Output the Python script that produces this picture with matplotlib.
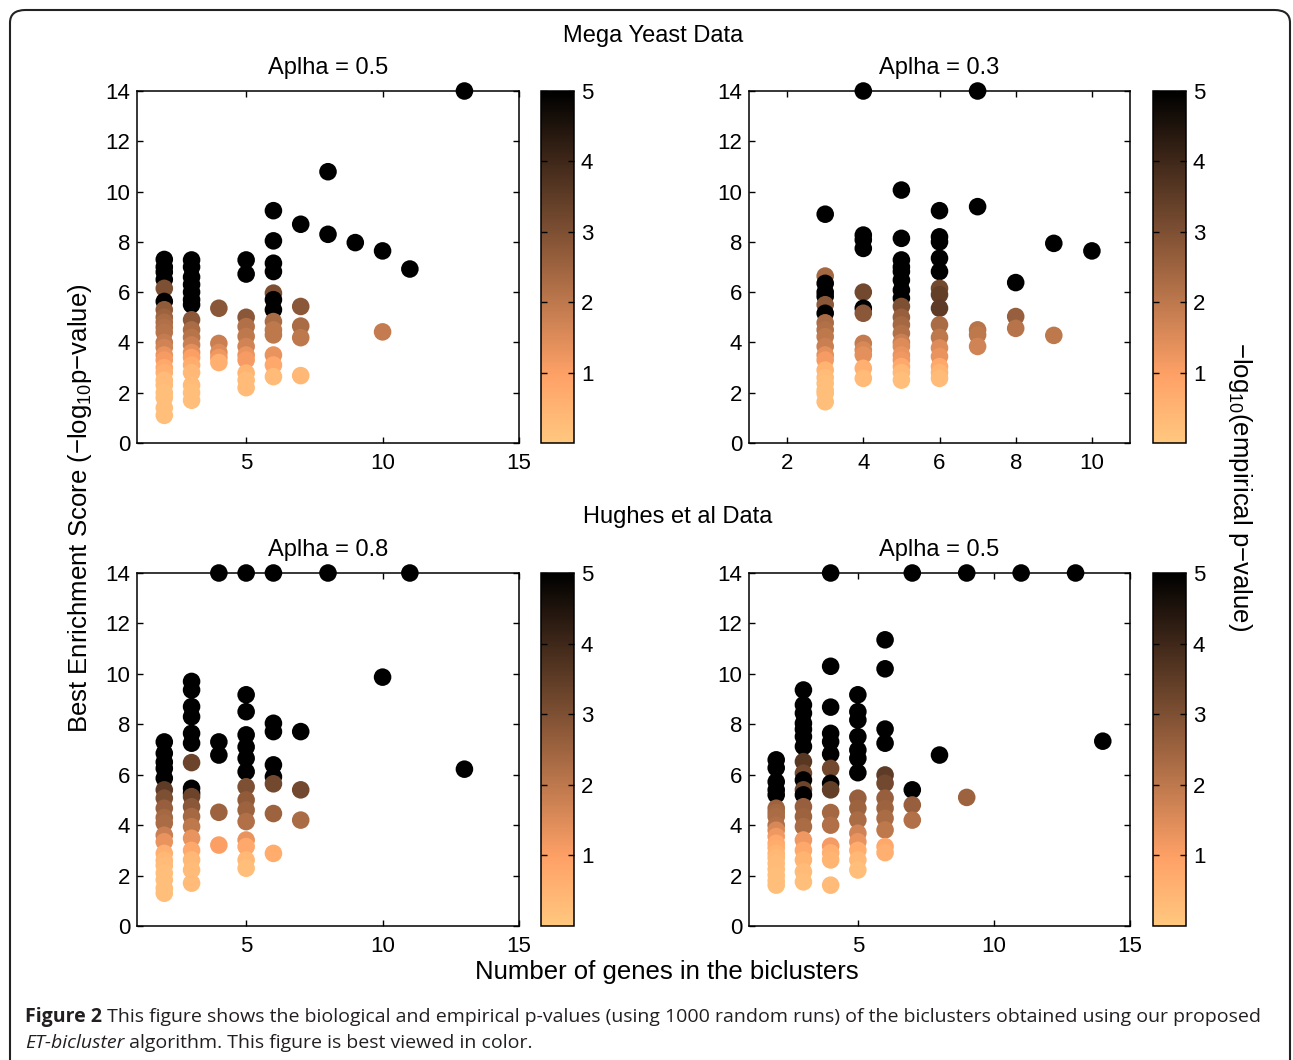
import matplotlib
matplotlib.use("Agg")
from matplotlib import pyplot as plt
from matplotlib.patches import FancyBboxPatch

plt.rcParams['font.family'] = ['Liberation Sans', 'DejaVu Sans']
plt.rcParams['mathtext.fontset'] = 'custom'
plt.rcParams['mathtext.rm'] = 'Liberation Sans'
plt.rcParams['mathtext.it'] = 'Liberation Sans:italic'

# Mega Yeast Data, alpha = 0.5
yeast05_x = [2]*23 + [3]*18 + [4]*5 + [5]*11 + [6]*13 + [7]*5 + [8, 8, 9, 10, 10, 11, 13]
yeast05_y = [7.3, 7.0, 6.8, 6.5, 6.15, 5.63, 5.3, 5.0, 4.8, 4.6, 4.4, 4.0, 3.8, 3.5, 3.3, 3.0,
             2.8, 2.5, 2.3, 2.0, 1.8, 1.4, 1.1,
             7.28, 7.0, 6.6, 6.3, 6.0, 5.7, 5.5, 4.9, 4.5, 4.2, 3.9, 3.6, 3.4, 3.1, 2.8, 2.3,
             2.0, 1.7,
             5.36, 3.96, 3.6, 3.4, 3.2,
             7.28, 6.72, 5.0, 4.63, 4.24, 3.84, 3.5, 3.3, 2.78, 2.5, 2.2,
             9.24, 8.04, 7.15, 6.82, 5.96, 5.7, 5.3, 4.83, 4.5, 4.3, 3.5, 3.1, 2.64,
             8.7, 5.43, 4.65, 4.19, 2.68,
             10.79, 8.3, 7.97, 7.64, 4.42, 6.92, 14.0]
yeast05_c = [5, 5, 5, 5, 3.0, 5, 2.7, 2.5, 2.3, 2.2, 2.1, 1.9, 1.7, 1.3, 1.1, 0.8,
             0.6, 0.3, 0.3, 0.2, 0.2, 0.2, 0.2,
             5, 5, 5, 5, 5, 5, 5, 2.8, 2.3, 2.1, 1.8, 1.4, 1.0, 0.7, 0.4, 0.3,
             0.2, 0.2,
             2.8, 1.8, 1.5, 1.2, 0.6,
             5, 5, 2.8, 2.2, 2.0, 1.7, 1.3, 1.1, 0.5, 0.3, 0.3,
             5, 5, 5, 5, 3.0, 5, 5, 2.3, 2.0, 2.0, 1.3, 0.8, 0.3,
             5, 2.8, 2.3, 2.0, 0.4,
             5, 5, 5, 5, 1.9, 5, 5]

# Mega Yeast Data, alpha = 0.3
yeast03_x = [3]*19 + [4]*12 + [5]*19 + [6]*15 + [7]*5 + [8]*3 + [9]*2 + [10]
yeast03_y = [9.1, 6.64, 6.35, 6.0, 5.83, 5.5, 5.16, 4.78, 4.5, 4.23, 3.84, 3.5, 3.3, 2.9,
             2.6, 2.37, 2.1, 1.97, 1.64,
             14.0, 8.27, 8.08, 7.74, 6.0, 5.36, 5.16, 3.96, 3.7, 3.5, 2.97, 2.57,
             10.06, 8.14, 7.28, 7.0, 6.82, 6.48, 6.08, 5.76, 5.43, 5.0, 4.7, 4.36, 4.0,
             3.84, 3.5, 3.3, 3.04, 2.8, 2.5,
             9.24, 8.2, 8.0, 7.35, 6.82, 6.15, 5.9, 5.36, 4.7, 4.2, 3.78, 3.44, 3.04,
             2.8, 2.57,
             14.0, 9.4, 4.5, 4.3, 3.84,
             6.38, 5.03, 4.56,
             7.94, 4.28,
             7.64]
yeast03_c = [5, 2.4, 5, 5, 5, 2.8, 5, 2.3, 2.2, 2.0, 1.8, 1.4, 1.1, 0.5,
             0.3, 0.2, 0.2, 0.2, 0.2,
             5, 5, 5, 5, 3.2, 5, 2.8, 1.9, 1.6, 1.4, 0.6, 0.3,
             5, 5, 5, 5, 5, 5, 5, 5, 3.0, 2.6, 2.4, 2.2, 1.8,
             1.5, 1.3, 1.2, 0.8, 0.4, 0.2,
             5, 5, 5, 5, 5, 3.2, 3.4, 3.5, 2.3, 2.0, 1.5, 1.3, 0.8,
             0.5, 0.3,
             5, 5, 2.1, 2.0, 1.7,
             5, 2.6, 2.1,
             5, 2.0,
             5]

# Hughes et al Data, alpha = 0.8
hughes08_x = [4, 5, 6, 8, 11] + [2]*19 + [3]*18 + [4]*4 + [5]*14 + [6]*7 + [7]*3 + [10, 13]
hughes08_y = [14.0, 14.0, 14.0, 14.0, 14.0,
              7.3, 6.85, 6.5, 6.25, 5.86, 5.4, 5.07, 4.67, 4.3, 4.08, 3.6, 3.34, 2.88,
              2.6, 2.4, 2.1, 1.83, 1.5, 1.3,
              9.7, 9.36, 8.7, 8.3, 7.64, 7.25, 6.48, 5.46, 5.27, 5.13, 4.73, 4.34, 3.94,
              3.48, 3.0, 2.62, 2.22, 1.7,
              7.3, 6.78, 4.51, 3.21,
              9.17, 8.5, 7.58, 7.1, 6.65, 6.12, 5.52, 5.0, 4.6, 4.14, 3.41, 3.15, 2.62, 2.29,
              8.04, 7.71, 6.39, 5.92, 5.64, 4.46, 2.88,
              7.71, 5.4, 4.2,
              9.87, 6.22]
hughes08_c = [5, 5, 5, 5, 5,
              5, 5, 5, 5, 5, 3.5, 3.0, 2.6, 2.4, 2.3, 1.8, 1.3, 0.6,
              0.4, 0.3, 0.2, 0.2, 0.2, 0.2,
              5, 5, 5, 5, 5, 5, 3.3, 5, 5, 3.3, 2.8, 2.4, 2.0,
              1.3, 0.8, 0.4, 0.3, 0.3,
              5, 5, 2.5, 1.0,
              5, 5, 5, 5, 5, 5, 3.0, 2.7, 2.5, 2.2, 1.3, 0.8, 0.4, 0.2,
              5, 5, 5, 5, 3.2, 2.5, 0.7,
              5, 3.2, 2.3,
              5, 5]

# Hughes et al Data, alpha = 0.5
hughes05_x = [4, 7, 9, 11, 13] + [2]*20 + [3]*20 + [4]*14 + [5]*15 + [6]*12 + [7]*3 + [8, 9, 14]
hughes05_y = [14.0, 14.0, 14.0, 14.0, 14.0,
              6.59, 6.27, 5.72, 5.4, 5.2, 4.67, 4.5, 4.34, 4.0, 3.8, 3.55, 3.28, 3.1, 2.88,
              2.7, 2.48, 2.25, 2.02, 1.8, 1.62,
              9.36, 8.77, 8.44, 8.04, 7.8, 7.51, 7.12, 6.52, 6.06, 5.79, 5.4, 5.2, 4.73, 4.34,
              3.94, 3.41, 3.0, 2.62, 2.15, 1.75,
              10.3, 8.68, 7.64, 7.31, 6.82, 6.25, 5.66, 5.4, 4.5, 4.0, 3.17, 2.9, 2.62, 1.62,
              9.17, 8.5, 8.17, 7.51, 6.98, 6.65, 6.08, 5.07, 4.67, 4.2, 3.68, 3.34, 3.0, 2.62,
              2.22,
              11.35, 10.2, 7.81, 7.25, 5.99, 5.66, 5.07, 4.67, 4.27, 3.81, 3.15, 2.91,
              5.4, 4.8, 4.2,
              6.78, 5.1, 7.33]
hughes05_c = [5, 5, 5, 5, 5,
              5, 5, 5, 5, 5, 2.5, 2.4, 2.3, 2.2, 1.6, 1.2, 0.8, 0.7, 0.5,
              0.4, 0.3, 0.3, 0.2, 0.2, 0.2,
              5, 5, 5, 5, 5, 5, 5, 3.6, 3.2, 5, 3.3, 5, 2.6, 2.5,
              2.3, 1.2, 0.8, 0.5, 0.3, 0.2,
              5, 5, 5, 5, 5, 3.2, 5, 3.4, 2.4, 2.2, 1.1, 0.6, 0.5, 0.3,
              5, 5, 5, 5, 5, 5, 5, 2.6, 2.5, 2.3, 1.7, 1.3, 0.7, 0.4,
              0.2,
              5, 5, 5, 5, 3.5, 3.2, 2.6, 2.5, 2.3, 2.0, 0.8, 0.6,
              5, 2.6, 2.2,
              5, 2.5, 5]

panels = [
    (yeast05_x, yeast05_y, yeast05_c, "Aplha = 0.5", (1, 15), [5, 10, 15]),
    (yeast03_x, yeast03_y, yeast03_c, "Aplha = 0.3", (1, 11), [2, 4, 6, 8, 10]),
    (hughes08_x, hughes08_y, hughes08_c, "Aplha = 0.8", (1, 15), [5, 10, 15]),
    (hughes05_x, hughes05_y, hughes05_c, "Aplha = 0.5", (1, 15), [5, 10, 15]),
]

W, H = 1293, 1060
fig = plt.figure(figsize=(W / 100, H / 100), dpi=100)


def px_rect(l, t, r, b):
    return [l / W, 1 - b / H, (r - l) / W, (b - t) / H]


def fx(x):
    return x / W


def fy(y):
    return 1 - y / H


boxes = [(137, 91, 519, 443), (749, 91, 1130, 443), (137, 573, 519, 926), (749, 573, 1130, 926)]
cboxes = [(541, 91, 574, 443), (1153, 91, 1186, 443), (541, 573, 574, 926), (1153, 573, 1186, 926)]

fs = 16
for (xs, ys, cs, title, xlim, xt), box, cbox in zip(panels, boxes, cboxes):
    ax = fig.add_axes(px_rect(*box))
    sc = ax.scatter(xs, ys, c=cs, cmap="copper_r", vmin=0, vmax=5, s=160,
                    linewidths=0, clip_on=False, zorder=3)
    ax.set_xlim(*xlim)
    ax.set_ylim(0, 14)
    ax.set_xticks(xt)
    ax.set_yticks(range(0, 15, 2))
    ax.tick_params(direction="in", top=True, right=True, length=4, width=1,
                   labelsize=fs)
    ax.tick_params(axis="x", pad=7)
    ax.tick_params(axis="y", pad=5)
    for sp in ax.spines.values():
        sp.set_linewidth(1.1)
    # panel title, placed like the original
    fig.text(fx((box[0] + box[2]) / 2), fy(box[1] - 23), title, ha="center", va="center",
             fontsize=17)

    cax = fig.add_axes(px_rect(*cbox))
    cb = fig.colorbar(sc, cax=cax, ticks=[1, 2, 3, 4, 5])
    cb.outline.set_linewidth(1.1)
    cax.tick_params(direction="in", left=True, right=True, length=4, width=1,
                    labelsize=fs, pad=5)

fig.text(fx(653), fy(36), "Mega Yeast Data", ha="center", va="center", fontsize=17)
fig.text(fx(678), fy(517), "Hughes et al Data", ha="center", va="center", fontsize=17)
fig.text(fx(667), fy(972), "Number of genes in the biclusters", ha="center",
         va="center", fontsize=18.5)
fig.text(fx(80), fy(508), "Best Enrichment Score (\u2212log$_{10}$p\u2212value)",
         ha="center", va="center", rotation=90, fontsize=18.5)
fig.text(fx(1240), fy(487), "\u2212log$_{10}$(empirical p\u2212value)",
         ha="center", va="center", rotation=-90, fontsize=18.5)

# rounded frame around the figure
frame = FancyBboxPatch((fx(10), -0.05), 1280 / W, 1 - 10 / H + 0.05,
                       boxstyle="round,pad=0,rounding_size=0.012",
                       transform=fig.transFigure, fill=False, lw=1.5,
                       edgecolor="#222222", clip_on=False)
fig.patches.append(frame)

# caption
cap = dict(fontsize=14, family=["Open Sans", "DejaVu Sans"], va="center", color="#231f20")
t1 = fig.text(fx(25), fy(1017), "Figure 2", fontweight="bold", **cap)
plt.annotate(" This figure shows the biological and empirical p-values (using 1000 random runs)"
             " of the biclusters obtained using our proposed",
             xy=(1, 0.5), xycoords=t1, ha="left", **cap)
t2 = fig.text(fx(25), fy(1043), "ET-bicluster", style="italic", **cap)
plt.annotate(" algorithm. This figure is best viewed in color.",
             xy=(1, 0.5), xycoords=t2, ha="left", **cap)

fig.savefig("out.png", dpi=100)
